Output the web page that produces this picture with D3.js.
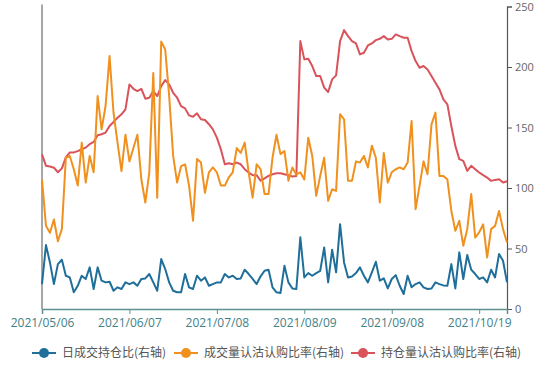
<!DOCTYPE html>
<html>
<head>
<meta charset="utf-8">
<script src="https://cdn.jsdelivr.net/npm/d3@7"></script>
<style>
  body { margin: 0; background: #fff; }
  svg { display: block; font-family: "Noto Sans CJK SC", "Noto Sans", sans-serif; }
</style>
</head>
<body>
<div id="chart"></div>
<script>
// trading days 2021/05/06 .. 2021/10/28
var dates = [
  '2021/05/06','2021/05/07','2021/05/10','2021/05/11','2021/05/12','2021/05/13','2021/05/14','2021/05/17','2021/05/18','2021/05/19',
  '2021/05/20','2021/05/21','2021/05/24','2021/05/25','2021/05/26','2021/05/27','2021/05/28','2021/05/31',
  '2021/06/01','2021/06/02','2021/06/03','2021/06/04','2021/06/07','2021/06/08','2021/06/09','2021/06/10','2021/06/11',
  '2021/06/15','2021/06/16','2021/06/17','2021/06/18','2021/06/21','2021/06/22','2021/06/23','2021/06/24','2021/06/25',
  '2021/06/28','2021/06/29','2021/06/30',
  '2021/07/01','2021/07/02','2021/07/05','2021/07/06','2021/07/07','2021/07/08','2021/07/09','2021/07/12','2021/07/13',
  '2021/07/14','2021/07/15','2021/07/16','2021/07/19','2021/07/20','2021/07/21','2021/07/22','2021/07/23','2021/07/26',
  '2021/07/27','2021/07/28','2021/07/29','2021/07/30',
  '2021/08/02','2021/08/03','2021/08/04','2021/08/05','2021/08/06','2021/08/09','2021/08/10','2021/08/11','2021/08/12',
  '2021/08/13','2021/08/16','2021/08/17','2021/08/18','2021/08/19','2021/08/20','2021/08/23','2021/08/24','2021/08/25',
  '2021/08/26','2021/08/27','2021/08/30','2021/08/31',
  '2021/09/01','2021/09/02','2021/09/03','2021/09/06','2021/09/07','2021/09/08','2021/09/09','2021/09/10','2021/09/13',
  '2021/09/14','2021/09/15','2021/09/16','2021/09/17','2021/09/22','2021/09/23','2021/09/24','2021/09/27','2021/09/28',
  '2021/09/29','2021/09/30',
  '2021/10/08','2021/10/11','2021/10/12','2021/10/13','2021/10/14','2021/10/15','2021/10/18','2021/10/19','2021/10/20',
  '2021/10/21','2021/10/22','2021/10/25','2021/10/26','2021/10/27','2021/10/28'
];

// 日成交持仓比
var volOiRatio = [
  20.6, 52.8, 38.5, 20.6, 37.1, 40.7, 27.5, 26.1, 13.8, 19.2, 27.5, 24.8, 34.4, 16.5, 34.4, 23.4, 22, 22.5, 15.1, 17.9,
  16.5, 22, 20.6, 22, 19.2, 24.8, 25.3, 28.9, 22, 15.1, 41.3, 33, 22, 15.1, 13.8, 13.8, 28.9, 17.9, 16.5, 27.5,
  23.4, 26.1, 19.2, 20.6, 22, 22, 28.9, 26.1, 27.5, 24.8, 25.3, 32.5, 28.9, 24.8, 20.6, 27, 31.6, 32.5, 17.9, 13.8,
  13.2, 35.7, 22, 17, 16.5, 59.2, 26.1, 29.7,
  27.5, 29.7, 31.6, 50.9, 22, 49, 30.3, 70.1, 38.5, 26.1, 26.9, 29.7, 34.4, 27.5, 22, 30.3, 39, 23.4, 25.3, 17, 24.8,
  28, 19.2, 12.4, 27.5, 17.9, 20.6, 22, 17.9, 16.5, 17, 22, 20.6, 19.5, 19.2, 37.1, 17, 46.8, 24.8, 44.6, 32.5,
  28.9, 24.8, 26.1, 22, 32.5, 26.1, 45.4, 39.9, 22
];

// 成交量认沽认购比率
var volPcr = [
  107, 68.8, 63, 74, 56, 66, 125, 126.5, 115.5, 102, 137.5, 104.5, 126.5, 113, 176, 148.5, 168, 209, 162, 137.5,
  114, 144, 122, 133, 144, 107, 88, 113, 195, 92, 221, 214.5, 176, 126.5, 104.5, 118, 119.6, 102, 73, 124,
  121, 96, 113, 117, 113, 102, 102, 108.7, 113, 133, 129, 137.5, 113, 92, 119.6, 115.5, 95, 95, 125, 144,
  128, 130.6, 106, 117, 111, 113, 107, 141.6,
  126.5, 93.5, 110, 125, 89.4, 99, 97.6, 161, 156.8, 106, 106, 122, 121, 126.5, 117, 135, 125, 88, 129, 104.5,
  113, 115.5, 117,
  115.5, 121, 155.4, 82.5, 101.7, 122, 111.4, 152.6, 162.3, 110, 110, 107, 81, 64.6, 72.9, 52.3, 66, 95, 59, 63.3,
  70, 42.6, 66, 68.7, 81, 66, 55
];

// 持仓量认沽认购比率
var oiPcr = [
  127.9, 118.3, 117.7, 116.8, 113, 116.2, 125.3, 129.4, 129.4, 130.5, 132, 133.4, 136.2, 138.1, 143.6, 144.4, 145.8,
  151.3, 154.6, 158.1, 160.9, 165,
  185.6, 182, 180.1, 182, 173.8, 174.6, 180.1, 176, 184.2, 189.2, 185.6, 178.7, 174.6, 167.7, 165.8, 160, 158.9,
  161.7, 156.8, 156.2, 152.7, 148.5, 141.6, 132, 119.6, 120.5, 119.6, 121, 119.6, 115.5, 112.8, 110.6, 110.6, 106,
  107.9, 110, 111.4, 112.2,
  112.2, 111.4, 110.6, 109.5, 110, 221.4,
  206.3, 206.8, 200.8, 192.5, 192.5, 182.9, 179.3, 189.8, 193.1, 221.4, 230.5, 225.5, 221.4, 219.5, 210.4, 211.8,
  217.8, 219.5, 222.2, 223.3, 225.5, 222.8, 223.3,
  226.9, 225.5, 224.2, 224.2, 213.1, 204.9, 199.4, 200.8, 198, 192.5, 187, 181.5, 173.3, 169.1, 151, 134.8, 123.8,
  122.4, 114.1, 118.3, 115.5, 112.8, 110.6, 108.6, 105.9, 106.7, 107.3, 104.5, 105.6
];

var seriesNames = ['日成交持仓比(右轴)', '成交量认沽认购比率(右轴)', '持仓量认沽认购比率(右轴)'];
var seriesColors = ['#1f6f9a', '#f0901e', '#d9535a'];
var yTicks = [0, 50, 100, 150, 200, 250];
var labelEvery = 22;

var width = 550, height = 366;
var margin = {top: 6.5, right: 43, bottom: 57, left: 42};

var svg = d3.select('#chart')
  .append('svg')
  .attr('width', width)
  .attr('height', height);

var x = d3.scalePoint()
  .domain(dates)
  .range([margin.left, width - margin.right]);

var y = d3.scaleLinear()
  .domain([0, 250])
  .range([height - margin.bottom, margin.top]);

// left axis: plain line only
svg.append('line')
  .attr('x1', margin.left).attr('x2', margin.left)
  .attr('y1', y(250) - 2).attr('y2', y(0))
  .attr('stroke', '#8a8a8a')
  .attr('stroke-width', 1.5);

// right axis
var yAxis = svg.append('g')
  .attr('transform', 'translate(' + (width - margin.right) + ',0)')
  .call(d3.axisRight(y).tickValues(yTicks).tickSize(5).tickPadding(3));
yAxis.select('.domain').attr('stroke', '#555').attr('stroke-width', 1.2);
yAxis.selectAll('.tick line').attr('stroke', '#555');
yAxis.selectAll('.tick text')
  .attr('fill', '#666')
  .style('font-size', '11px')
  .style('font-family', '"Open Sans", sans-serif');

// bottom axis
var xAxis = svg.append('g')
  .attr('transform', 'translate(0,' + y(0) + ')')
  .call(d3.axisBottom(x)
    .tickValues(dates.filter(function(d, i) { return i % labelEvery === 0; }))
    .tickSize(5)
    .tickPadding(4));
xAxis.select('.domain').attr('stroke', '#5f9090').attr('stroke-width', 1.5);
xAxis.selectAll('.tick line').attr('stroke', '#5f9090');
xAxis.selectAll('.tick text')
  .attr('fill', '#3f7f88')
  .style('font-size', '12px')
  .style('font-family', '"Open Sans", sans-serif');

// lines
var allSeries = [volOiRatio, volPcr, oiPcr];
var line = d3.line()
  .x(function(d, i) { return x(dates[i]); })
  .y(function(d) { return y(d); });

// draw order: red, orange, blue on top
[2, 1, 0].forEach(function(k) {
  svg.append('path')
    .datum(allSeries[k])
    .attr('fill', 'none')
    .attr('stroke', seriesColors[k])
    .attr('stroke-width', 2)
    .attr('stroke-linejoin', 'round')
    .attr('d', line);
});

// legend
var legendX = [44, 186, 363];
var legend = svg.append('g').attr('class', 'legend');
seriesNames.forEach(function(name, k) {
  var g = legend.append('g').attr('transform', 'translate(' + legendX[k] + ',353)');
  g.append('line')
    .attr('x1', -12).attr('x2', 12)
    .attr('stroke', seriesColors[k])
    .attr('stroke-width', 2);
  g.append('circle')
    .attr('r', 5)
    .attr('fill', seriesColors[k]);
  g.append('text')
    .attr('x', 18)
    .attr('dy', '0.35em')
    .attr('fill', '#555')
    .style('font-size', '12px')
    .text(name);
});
</script>
</body>
</html>
